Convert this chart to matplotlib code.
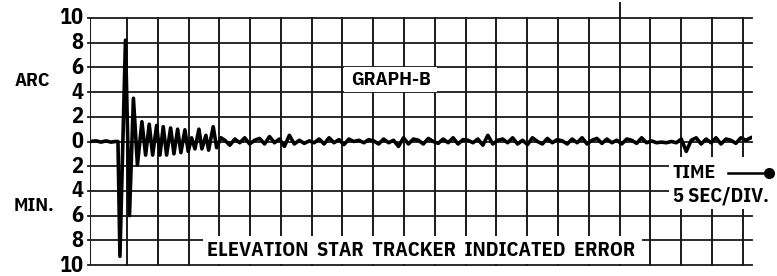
## recreate GRAPH-B: elevation star tracker indicated error
import numpy as np
from matplotlib import pyplot as plt
from matplotlib.patches import Rectangle

plt.rcParams['font.family'] = ['IBM Plex Sans Condensed', 'DejaVu Sans']
plt.rcParams['font.weight'] = 'bold'

## y tick labels (arc min, shown as absolute values)
ytick_vals = [10, 8, 6, 4, 2, 0, -2, -4, -6, -8, -10]
ytick_labels = ['10', '8', '6', '4', '2', '0', '2', '4', '6', '8', '10']

## time axis: 5 sec per division
xgrid = [0, 5, 10, 15, 20, 25, 30, 35, 40, 45, 50, 55, 60, 65, 70, 75, 80, 85, 90, 95, 100]

## the transient after the disturbance (time in sec, error in arc min)
t_trans = [-6.0, -5.0, -4.2, -3.4, -2.6, -1.9, -1.46, -1.14, -0.24, 0.41, 1.05, 1.70,
           2.43, 3.03, 3.62, 4.17, 4.82, 5.36, 5.89, 6.44, 7.09, 7.63, 8.23, 8.76,
           9.41, 9.95, 10.50, 11.04, 11.69, 12.17, 12.82, 13.26, 14.01, 14.56, 15.26]
e_trans = [0.0, 0.05, -0.05, 0.05, -0.05, 0.0, 0.0, -9.3, 8.2, -6.0, 3.5, -1.9,
           1.6, -1.1, 1.4, -1.1, 1.3, -1.1, 1.2, -1.1, 1.1, -1.0, 1.0, -0.9,
           0.95, -0.8, 0.3, -0.6, 1.0, -0.6, 0.5, -0.7, 1.2, -0.5, 0.3]

## the steady part, read at even steps from 15.9 s to 101.3 s
e_steady = [0.1, -0.3, 0.2, -0.1, 0.3, -0.2, 0.1, 0.25, -0.2, 0.4,
            -0.1, 0.2, -0.4, 0.5, -0.2, 0.1, -0.15, 0.05, -0.1, 0.2,
            -0.2, 0.3, -0.1, 0.15, -0.25, 0.2, 0.0, 0.1, -0.1, 0.15,
            0.05, -0.2, 0.2, -0.1, 0.1, -0.4, 0.3, -0.2, 0.2, 0.1,
            -0.2, 0.25, 0.0, -0.15, 0.2, -0.1, 0.3, -0.2, 0.15, 0.1,
            -0.1, 0.2, -0.3, 0.5, -0.2, 0.1, 0.2, -0.1, 0.3, -0.2,
            0.1, -0.25, 0.3, 0.0, -0.2, 0.25, -0.1, 0.15, 0.05, -0.2,
            0.2, -0.1, 0.3, -0.2, 0.1, 0.25, -0.15, 0.2, -0.1, 0.1,
            -0.2, 0.2, 0.1, -0.15, 0.3, -0.1, 0.05, -0.1, -0.05, -0.1,
            0.0, -0.1, 0.2, -0.8, 0.1, 0.3, -0.2, 0.2, -0.1, 0.3,
            -0.2, 0.2, 0.1, -0.15, 0.3, 0.1, 0.3]
t_steady = np.linspace(15.9, 101.3, len(e_steady))

xmin, xmax = -6.0, 101.5

fig = plt.figure(figsize=(7.77, 2.76), dpi=100)
ax = fig.add_axes([90/777, 11/276, 662/777, 247/276])
ax.set_xlim(xmin, xmax)
ax.set_ylim(-10, 10)
ax.axis('off')

gc = '#1a1a1a'
## grid
for y in ytick_vals:
    ax.plot([xmin - 0.3, xmax], [y, y], color=gc, lw=1.3, zorder=1, clip_on=False)
for x in xgrid:
    top = 11.2 if x == 80 else 10
    ax.plot([x, x], [-10, top], color=gc, lw=1.4, zorder=1, clip_on=False)
ax.plot([xmin, xmin], [-10, 10], color=gc, lw=1.5, zorder=1)

## white boxes that break the grid around the labels
ax.add_patch(Rectangle((35.3, 4.0), 15.0, 2.0, fc='white', ec='none', zorder=2))
ax.add_patch(Rectangle((12.3, -9.93), 71.3, 2.3, fc='white', ec='none', zorder=2))
ax.add_patch(Rectangle((88.1, -5.5), 14, 4.25, fc='white', ec='none', zorder=2, clip_on=False))

## trace
ax.plot(t_trans + list(t_steady), e_trans + e_steady, color='black', lw=2.6,
        zorder=4, solid_joinstyle='round')

## labels
for v, s in zip(ytick_vals, ytick_labels):
    ax.text(xmin - 1.1, v, s, ha='right', va='center', fontsize=16, clip_on=False)
ax.text(-18.3, 4.86, 'ARC', ha='left', va='center', fontsize=14, clip_on=False)
ax.text(-18.4, -5.26, 'MIN.', ha='left', va='center', fontsize=14, clip_on=False)
ax.text(42.8, 5.0, 'GRAPH-B', ha='center', va='center', fontsize=14, zorder=3)
ax.text(47.8, -8.85, 'ELEVATION  STAR  TRACKER  INDICATED  ERROR', ha='center',
        va='center', fontsize=14.6, zorder=3)
ax.text(88.6, -2.55, 'TIME', ha='left', va='center', fontsize=14, zorder=3, clip_on=False)
ax.text(88.6, -4.45, '5 SEC/DIV.', ha='left', va='center', fontsize=14.5, zorder=3, clip_on=False)
ax.plot([97.6, 104.2], [-2.55, -2.55], color='black', lw=1.8, zorder=3, clip_on=False)
ax.plot([104.2], [-2.55], 'o', color='black', ms=7, zorder=3, clip_on=False)

plt.savefig('out.png', dpi=100)
